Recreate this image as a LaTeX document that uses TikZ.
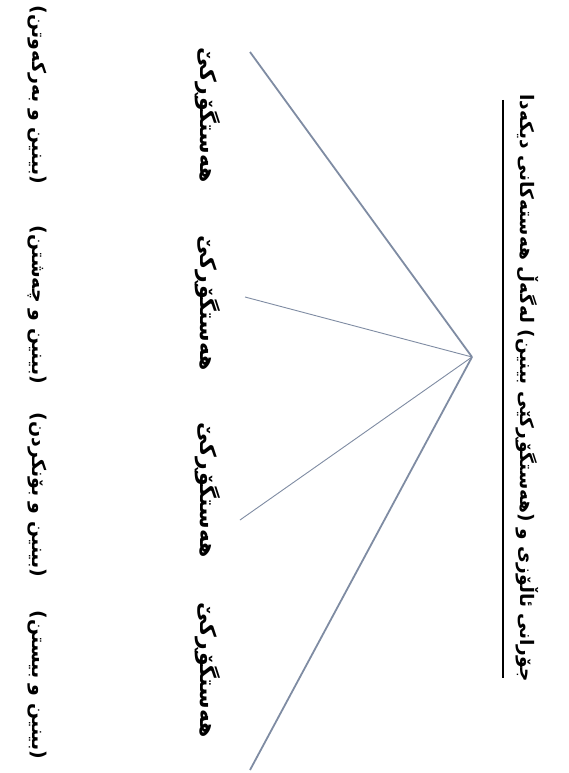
\documentclass[tikz,border=0pt]{standalone}
\usepackage{fontspec}
\TeXXeTstate=1
\newfontfamily\arabicfont[Script=Arabic]{DejaVu Sans}
\definecolor{linecol}{HTML}{7F8CA3}
\begin{document}
\begin{tikzpicture}[x=1pt,y=-1pt,
  ktext/.style={font=\arabicfont\bfseries, rotate=-90, inner sep=2pt, text=black},
  title/.style={ktext, font=\arabicfont\bfseries\fontsize{18.6}{22}\selectfont},
  sense/.style={ktext, font=\arabicfont\bfseries\fontsize{22}{26}\selectfont},
  pair/.style={ktext, font=\arabicfont\bfseries\fontsize{19}{22}\selectfont},
  thickline/.style={draw=linecol, line width=1.8pt},
  thinline/.style={draw=linecol, line width=0.9pt}]
\useasboundingbox (0,0) rectangle (568,773);
\fill[white] (0,0) rectangle (568,773);

\node[title] (title) at (527,388) {\beginR جۆرانی ئاڵۆزی و (هەستگۆڕکێی بینین) لەگەڵ هەستەکانی دیکەدا\endR};
\coordinate (ul1) at (503,100);
\coordinate (ul2) at (503,678);
\draw[line width=1.8pt] (ul1) -- (ul2);

\node[sense] (b1) at (208,115) {\beginR هەستگۆڕکێ\endR};
\node[sense] (b2) at (208,303) {\beginR هەستگۆڕکێ\endR};
\node[sense] (b3) at (208,490) {\beginR هەستگۆڕکێ\endR};
\node[sense] (b4) at (208,670) {\beginR هەستگۆڕکێ\endR};

\node[pair] (p1) at (37,95) {\beginR (بینین و بەرکەوتن)\endR};
\node[pair] (p2) at (37,305) {\beginR (بینین و چەشتن)\endR};
\node[pair] (p3) at (37,495) {\beginR (بینین و بۆنکردن)\endR};
\node[pair] (p4) at (37,685) {\beginR (بینین و بیستن)\endR};

\coordinate (hub) at (472,357);
\coordinate (e1) at (250,52);
\coordinate (e4) at (250,770);
\draw[thickline] (hub) -- (e1);
\draw[thinline] (hub) -- ([xshift=37pt,yshift=6pt]b2.center);
\draw[thinline] (hub) -- ([xshift=32pt,yshift=-30pt]b3.center);
\draw[thickline] (hub) -- (e4);
\end{tikzpicture}
\end{document}
